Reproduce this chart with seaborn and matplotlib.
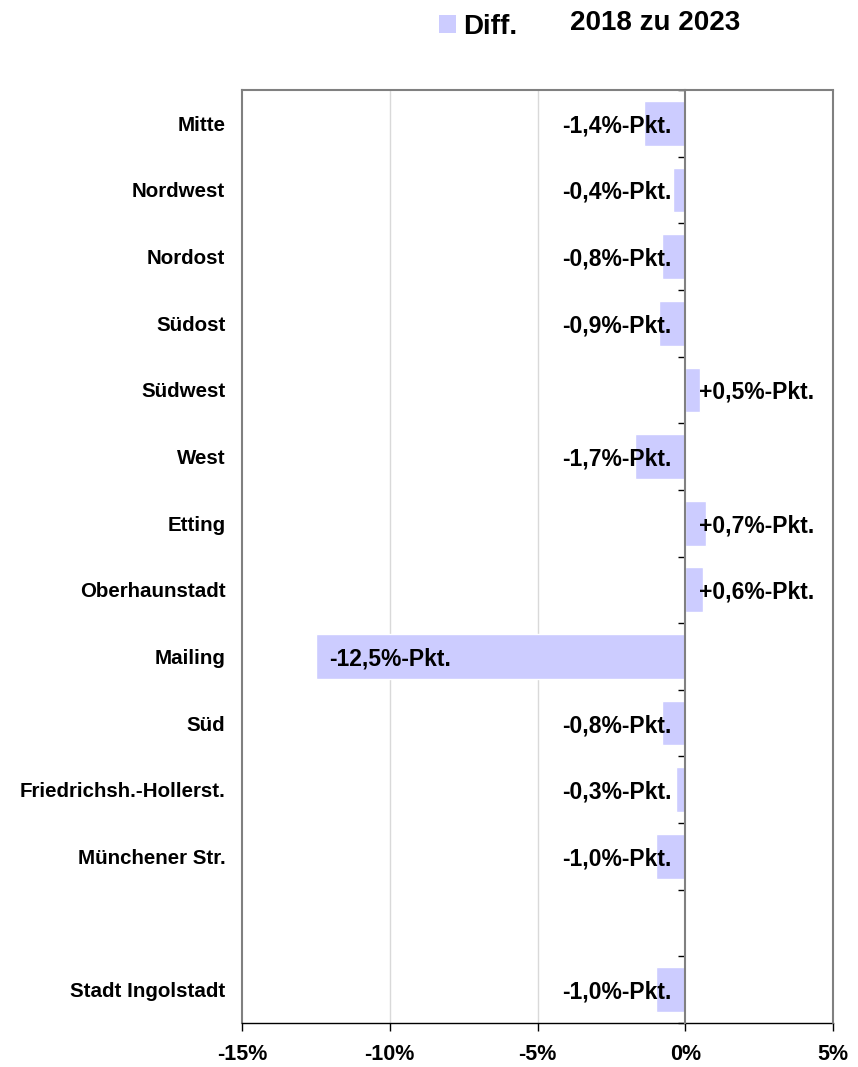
import matplotlib
matplotlib.use("Agg")
import matplotlib.pyplot as plt
import matplotlib.ticker as mticker
from matplotlib.patches import Patch
import seaborn as sns
import pandas as pd
import numpy as np

categories = ["Mitte", "Nordwest", "Nordost", "Südost", "Südwest", "West", "Etting",
              "Oberhaunstadt", "Mailing", "Süd", "Friedrichsh.-Hollerst.",
              "Münchener Str.", " ", "Stadt Ingolstadt"]
values = [-1.4, -0.4, -0.8, -0.9, 0.5, -1.7, 0.7, 0.6, -12.5, -0.8, -0.3, -1.0, np.nan, -1.0]
labels = ["-1,4%-Pkt.", "-0,4%-Pkt.", "-0,8%-Pkt.", "-0,9%-Pkt.", "+0,5%-Pkt.", "-1,7%-Pkt.",
          "+0,7%-Pkt.", "+0,6%-Pkt.", "-12,5%-Pkt.", "-0,8%-Pkt.", "-0,3%-Pkt.", "-1,0%-Pkt.",
          "", "-1,0%-Pkt."]
xticks = [-15, -10, -5, 0, 5]
xticklabels = ["-15%", "-10%", "-5%", "0%", "5%"]
legend_label = "Diff."
title_text = "2018 zu 2023"

sns.set_style("white")
plt.rcParams['font.family'] = ['Liberation Sans', 'DejaVu Sans']
plt.rcParams['font.weight'] = 'bold'
plt.rcParams['text.color'] = 'black'
plt.rcParams['xtick.color'] = 'black'
plt.rcParams['ytick.color'] = 'black'

bar_color = "#CCCCFF"

df = pd.DataFrame({"cat": categories, "val": values})

fig = plt.figure(figsize=(8.58, 10.67), dpi=100)
ax = fig.add_axes([242/858, 1-1023/1067, (833-242)/858, (1023-90)/1067])

sns.barplot(data=df.dropna(), x="val", y="cat", order=categories, orient="h",
            color=bar_color, width=0.67, saturation=1, ax=ax, zorder=2)

ax.set_xlim(-15, 5)
ax.set_ylim(len(categories) - 0.5, -0.5)
ax.set_xlabel("")
ax.set_ylabel("")

# x axis
ax.set_xticks(xticks)
ax.set_xticklabels(xticklabels, fontweight='bold')
ax.tick_params(axis='x', direction='out', length=6, width=1, color='black', pad=9,
               bottom=True, labelsize=15.5, labelcolor='black')
for x in [-10, -5]:
    ax.axvline(x, color='#d9d9d9', lw=1, zorder=0)

# y axis: labels at left, boundary ticks on a spine at zero
ax.set_yticks(range(len(categories)))
ax.set_yticklabels(categories, fontweight='bold')
ax.tick_params(axis='y', which='major', length=0, pad=12, left=True, right=False,
               labelsize=14.8, labelcolor='black')
ax.yaxis.set_minor_locator(mticker.FixedLocator(np.arange(-0.5, len(categories), 1.0)))
ax.tick_params(axis='y', which='minor', left=False, right=True, direction='in',
               length=5, width=1, color='black')

ax.spines['right'].set_position(('data', 0))
ax.spines['right'].set_color('#808080')
ax.spines['right'].set_linewidth(1.5)
ax.spines['right'].set_zorder(3)
ax.spines['bottom'].set_color('black')
ax.spines['bottom'].set_linewidth(1)
ax.spines['left'].set_color('#808080')
ax.spines['left'].set_linewidth(1.5)
ax.spines['top'].set_color('#808080')
ax.spines['top'].set_linewidth(1.5)
# outer right frame
ax.axvline(5, color='#808080', lw=1.5, zorder=3, clip_on=False)

# value labels
for i, (v, lab) in enumerate(zip(values, labels)):
    if not lab:
        continue
    if v < -5:
        ax.text(v + 0.45, i, lab, ha='left', va='center_baseline', fontsize=16.5,
                fontweight='bold', zorder=4)
    elif v < 0:
        ax.text(-0.47, i, lab, ha='right', va='center_baseline', fontsize=16.5,
                fontweight='bold', zorder=4)
    else:
        ax.text(0.47, i, lab, ha='left', va='center_baseline', fontsize=16.5,
                fontweight='bold', zorder=4)

# legend + title
handles = [Patch(facecolor=bar_color, edgecolor='none', label=legend_label)]
fig.legend(handles=handles, loc='center left', bbox_to_anchor=(439/858, 1-27/1067),
           frameon=False, handlelength=0.62, handleheight=0.62,
           handletextpad=0.25, borderaxespad=0, borderpad=0,
           prop={'weight': 'bold', 'size': 20})
fig.text(655/858, 1-23/1067, title_text, ha='center', va='center', fontsize=20, fontweight='bold')

fig.savefig("out.png", dpi=100)
